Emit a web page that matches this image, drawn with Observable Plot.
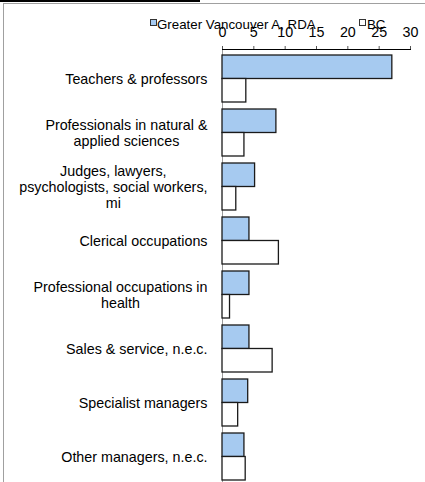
<!DOCTYPE html>
<html>
<head>
<meta charset="utf-8">
<script src="https://cdn.jsdelivr.net/npm/d3@7"></script>
<script src="https://cdn.jsdelivr.net/npm/@observablehq/plot@0.6"></script>
<style>
  html, body { margin: 0; padding: 0; background: #fff; overflow: hidden; }
  #wrap { position: relative; width: 425px; height: 482px; font-family: "Liberation Sans", Arial, sans-serif; }
  #chart { position: absolute; left: 0; top: 0; }
  .frameline { position: absolute; }
  .legend { position: absolute; font-size: 13.3px; color: #000; white-space: nowrap; line-height: 1; }
  .sw { position: absolute; box-sizing: border-box; width: 7px; height: 7px; border: 1px solid #333; }
</style>
</head>
<body>
<div id="wrap">
  <div class="frameline" style="left:0;top:0;width:200px;height:2px;background:#000;"></div>
  <div class="frameline" style="left:3px;top:3px;width:422px;height:479px;border-left:1px solid #a0a0a0;border-top:1px solid #a0a0a0;"></div>
  <div id="chart"></div>
  <div id="legend"></div>
</div>
<script>
const categories = [
  "Teachers & professors",
  "Professionals in natural &\napplied sciences",
  "Judges, lawyers,\npsychologists, social workers,\nmi",
  "Clerical occupations",
  "Professional occupations in\nhealth",
  "Sales & service, n.e.c.",
  "Specialist managers",
  "Other managers, n.e.c."
];
const seriesNames = ["Greater Vancouver A, RDA", "BC"];
const rdaValues = [27.1, 8.6, 5.2, 4.3, 4.3, 4.3, 4.1, 3.5];
const bcValues  = [3.8, 3.5, 2.2, 9.0, 1.2, 8.0, 2.5, 3.7];
const xTicks = [0, 5, 10, 15, 20, 25, 30];
const colors = ["#A6CAF0", "#FFFFFF"];

const rows = [];
categories.forEach((c, i) => {
  rows.push({category: c, series: seriesNames[0], value: rdaValues[i]});
  rows.push({category: c, series: seriesNames[1], value: bcValues[i]});
});

const bandTop = 53.3, bandBottom = 481;
const padIn = 0.136;
const step = (bandBottom - bandTop) / (categories.length - padIn);
const half = step * (1 - padIn) / 2;

const chart = Plot.plot({
  width: 425,
  height: 482,
  marginLeft: 222,
  marginRight: 15,
  marginTop: 49,
  marginBottom: 0,
  style: {fontFamily: '"Liberation Sans", Arial, sans-serif', fontSize: "14.3px", background: "transparent", overflow: "visible"},
  x: {domain: [0, 30], axis: null},
  y: {domain: categories, range: [bandTop, bandBottom], paddingInner: padIn, paddingOuter: 0, axis: null},
  color: {domain: seriesNames, range: colors},
  marks: [
    Plot.frame({anchor: "left", stroke: "#9a9a9a"}),
    Plot.barX(rows.filter(d => d.series === seriesNames[0]), {x: "value", y: "category", fill: "series", stroke: "#1a1a1a", strokeWidth: 1.3, insetBottom: half}),
    Plot.barX(rows.filter(d => d.series === seriesNames[1]), {x: "value", y: "category", fill: "series", stroke: "#1a1a1a", strokeWidth: 1.3, insetTop: half}),
    Plot.axisX({anchor: "top", label: null, ticks: xTicks, tickSize: 4, tickPadding: 9, stroke: "#555", fill: "#000", fontSize: 14.3}),
    Plot.frame({anchor: "top", stroke: "#000"}),
    Plot.axisY({anchor: "left", label: null, tickSize: 0, tickPadding: 15, fill: "#000", fontSize: 14.3, lineHeight: 1.13})
  ]
});
document.getElementById("chart").appendChild(chart);

// center each wrapped line within its right-aligned label block
chart.querySelectorAll('g[aria-label="y-axis tick label"] text').forEach(t => {
  const spans = t.querySelectorAll("tspan");
  if (spans.length) {
    const w = Math.max(...Array.from(spans, s => s.getComputedTextLength()));
    t.setAttribute("text-anchor", "middle");
    spans.forEach(s => s.setAttribute("x", -w / 2));
  }
});

// legend
const legend = document.getElementById("legend");
const legendPos = [{sx: 150, tx: 157}, {sx: 359, tx: 367}];
seriesNames.forEach((name, i) => {
  const sw = document.createElement("div");
  sw.className = "sw";
  sw.style.left = legendPos[i].sx + "px";
  sw.style.top = "19px";
  sw.style.background = colors[i];
  legend.appendChild(sw);
  const tx = document.createElement("div");
  tx.className = "legend";
  tx.style.left = legendPos[i].tx + "px";
  tx.style.top = "17.5px";
  tx.textContent = name;
  legend.appendChild(tx);
});
</script>
</body>
</html>
